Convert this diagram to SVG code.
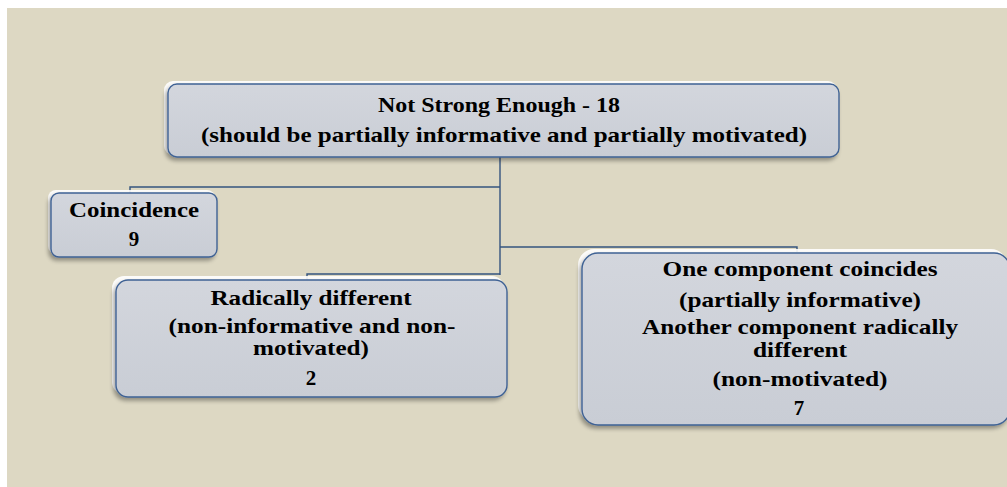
<svg xmlns="http://www.w3.org/2000/svg" width="1007" height="487" viewBox="0 0 1007 487">
<style>
.box{fill:url(#g);stroke:#3F6294;stroke-width:1.4}
.hl{fill:#FFFFFF;opacity:0.9}
.t{font-family:"Liberation Serif","Times New Roman",serif;font-weight:bold;font-size:21px;fill:#000;text-anchor:middle}
.c{fill:none;stroke:#34547F;stroke-width:1.4}
</style>
<defs>
<linearGradient id="g" x1="0" y1="0" x2="0" y2="1">
<stop offset="0" stop-color="#D3D6DD"/>
<stop offset="1" stop-color="#C9CDD5"/>
</linearGradient>
<filter id="sh" x="-10%" y="-10%" width="120%" height="130%">
<feGaussianBlur in="SourceAlpha" stdDeviation="2"/>
<feOffset dx="-2" dy="3" result="b"/>
<feComponentTransfer><feFuncA type="linear" slope="0.35"/></feComponentTransfer>
<feMerge><feMergeNode/><feMergeNode in="SourceGraphic"/></feMerge>
</filter>
</defs>
<rect x="7" y="8" width="1000" height="479" fill="#DDD8C3"/>
<g id="connectors">
<path class="c" d="M500,157 V275"/>
<path class="c" d="M130,193 V187 H500"/>
<path class="c" d="M500,247 H797 V252"/>
<path class="c" d="M307,280 V274 H500"/>
</g>
<g id="n-top">
<rect class="hl" x="164" y="81" width="673" height="74" rx="9"/>
<rect class="box" x="168" y="84" width="671" height="73" rx="9" filter="url(#sh)"/>
<text class="t" x="499" y="112" font-size="20" textLength="242" lengthAdjust="spacingAndGlyphs">Not Strong Enough - 18</text>
<text class="t" x="504" y="142" font-size="20" textLength="606" lengthAdjust="spacingAndGlyphs">(should be partially informative and partially motivated)</text>
</g>
<g id="n-coincidence">
<rect class="hl" x="48" y="190" width="167" height="64" rx="8"/>
<rect class="box" x="51" y="193" width="166" height="64" rx="8" filter="url(#sh)"/>
<text class="t" x="134" y="217" textLength="130" lengthAdjust="spacingAndGlyphs">Coincidence</text>
<text class="t" x="134" y="246">9</text>
</g>
<g id="n-radical">
<rect class="hl" x="112" y="276" width="392" height="118" rx="12"/>
<rect class="box" x="116" y="280" width="391" height="117" rx="12" filter="url(#sh)"/>
<text class="t" x="311" y="305" textLength="201" lengthAdjust="spacingAndGlyphs">Radically different</text>
<text class="t" x="312" y="333" textLength="287" lengthAdjust="spacingAndGlyphs">(non-informative and non-</text>
<text class="t" x="311" y="355" textLength="116" lengthAdjust="spacingAndGlyphs">motivated)</text>
<text class="t" x="311" y="385">2</text>
</g>
<g id="n-onecomp">
<rect class="hl" x="578" y="249" width="429" height="172" rx="16"/>
<rect class="box" x="582" y="253" width="428" height="172" rx="16" filter="url(#sh)"/>
<text class="t" x="800" y="276" textLength="275" lengthAdjust="spacingAndGlyphs">One component coincides</text>
<text class="t" x="800" y="307" textLength="242" lengthAdjust="spacingAndGlyphs">(partially informative)</text>
<text class="t" x="800" y="334" textLength="316" lengthAdjust="spacingAndGlyphs">Another component radically</text>
<text class="t" x="800" y="357" textLength="94" lengthAdjust="spacingAndGlyphs">different</text>
<text class="t" x="800" y="386" textLength="175" lengthAdjust="spacingAndGlyphs">(non-motivated)</text>
<text class="t" x="799" y="415">7</text>
</g>
</svg>
